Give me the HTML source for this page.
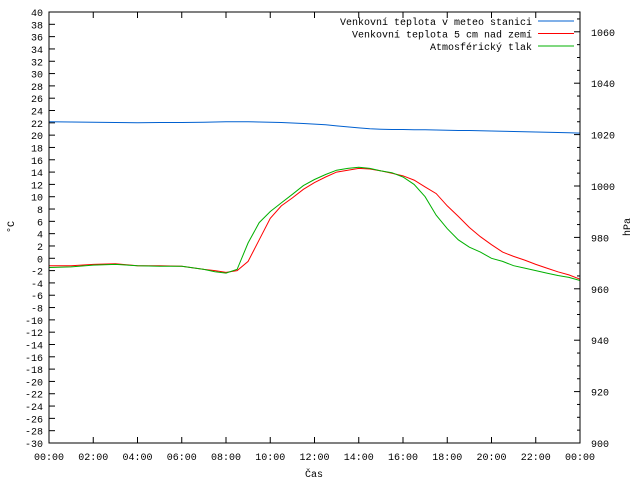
<!DOCTYPE html>
<html><head><meta charset="utf-8"><style>
html,body{margin:0;padding:0;background:#fff}
svg{display:block;font-family:"Liberation Mono",monospace;font-size:10px}
</style></head><body>
<svg id="c" width="640" height="480">
<rect x="0" y="0" width="640" height="480" fill="#fff"/>
<g id="grid"></g>
<g id="series"></g>
<rect x="49" y="12" width="531" height="431" fill="none" stroke="#000"/>
<text x="14" y="227" transform="rotate(-90 14 227)" text-anchor="middle">°C</text>
<text x="630" y="227" transform="rotate(-90 630 227)" text-anchor="middle">hPa</text>
<text x="314" y="477" text-anchor="middle">Čas</text>
<g id="legend"></g>
</svg>
<script>
const hours = [0,1,2,3,4,5,6,7,7.5,8,8.5,9,9.5,10,10.5,11,11.5,12,12.5,13,13.5,14,14.5,15,15.5,16,16.5,17,17.5,18,18.5,19,19.5,20,20.5,21,21.5,22,22.5,23,23.5,24];
const soilTemp = [-1.2,-1.2,-1,-0.9,-1.2,-1.2,-1.3,-1.8,-2,-2.3,-2,-0.5,3,6.5,8.5,9.8,11.2,12.3,13.2,14,14.3,14.6,14.5,14.2,13.8,13.4,12.7,11.6,10.5,8.5,6.8,5,3.5,2.2,1,0.3,-0.3,-1,-1.6,-2.2,-2.7,-3.4];
const airTemp = [-1.5,-1.4,-1.1,-1,-1.2,-1.3,-1.3,-1.8,-2.2,-2.4,-1.8,2.5,5.8,7.6,9,10.4,11.8,12.8,13.6,14.3,14.6,14.8,14.6,14.2,13.9,13.2,12,10,7,4.8,3,1.8,1,0,-0.5,-1.2,-1.6,-2,-2.4,-2.8,-3.1,-3.6];
const pressure = [1025,1024.9,1024.8,1024.7,1024.6,1024.7,1024.7,1024.8,1024.9,1025,1025,1025,1024.9,1024.8,1024.7,1024.5,1024.3,1024.1,1023.8,1023.4,1023,1022.6,1022.3,1022.1,1022,1022,1021.9,1021.9,1021.8,1021.7,1021.6,1021.6,1021.5,1021.4,1021.3,1021.2,1021.1,1021,1020.9,1020.8,1020.7,1020.6];
const yTicks = [];for(let v=-30;v<=40;v+=2)yTicks.push(v);
const y2Ticks = [900,920,940,960,980,1000,1020,1040,1060];
const xTicks = ["00:00","02:00","04:00","06:00","08:00","10:00","12:00","14:00","16:00","18:00","20:00","22:00","00:00"];
const L=49,R=580,T=12,B=443;
const ns="http://www.w3.org/2000/svg";
const xs=h=>L+(R-L)*h/24;
const ys=v=>B-(B-T)*(v+30)/70;
const yp=p=>B-(p-900)*2.57;
function mk(t,a,parent){const e=document.createElementNS(ns,t);for(const k in a)e.setAttribute(k,a[k]);parent.appendChild(e);return e;}
const g=document.getElementById('grid');
yTicks.forEach(v=>{const y=ys(v);
 const l=mk('line',{x1:L,x2:L+6,y1:y,y2:y,stroke:'#000'},g);
 
 
 const t=mk('text',{x:L-6,y:y+4,'text-anchor':'end'},g);t.textContent=v;
 
 
});
for(let p=900;p<=1065;p+=5){const y=yp(p);const major=p%20===0;
 const l=mk('line',{x1:R,x2:R-(major?6:3),y1:y,y2:y,stroke:'#000'},g);
 
 
}
y2Ticks.forEach(p=>{const t=mk('text',{x:R+11,y:yp(p)+4},g);t.textContent=p;
 
 
});
xTicks.forEach((s,i)=>{const x=xs(i*2);
 mk('line',{x1:x,x2:x,y1:B,y2:B-6,stroke:'#000'},g);
 mk('line',{x1:x,x2:x,y1:T,y2:T+6,stroke:'#000'},g);
 const t=mk('text',{x:x,y:B+17,'text-anchor':'middle'},g);t.textContent=s;
 
 
});
const sg=document.getElementById('series');
function line(vals,f,col,name){
 const d=vals.map((v,i)=>(i?'L':'M')+xs(hours[i]).toFixed(1)+' '+f(v).toFixed(1)).join(' ');
 const p=mk('path',{d:d,fill:'none',stroke:col,'stroke-width':1},sg);
 
 
}
line(pressure,yp,'#0060d0','pressure-line');
line(soilTemp,ys,'#ff0000','soil-temp-line');
line(airTemp,ys,'#00b000','air-temp-line');
const lg=document.getElementById('legend');
[["Venkovní teplota v meteo stanici","#0060d0"],["Venkovní teplota 5 cm nad zemí","#ff0000"],["Atmosférický tlak","#00b000"]].forEach((e,i)=>{
 const y=21+i*12.5;
 const t=mk('text',{x:532,y:y+4,'text-anchor':'end'},lg);t.textContent=e[0];
 
 
 const l=mk('line',{x1:538,x2:574,y1:y,y2:y,stroke:e[1]},lg);
 
 
});
</script>
</body></html>
